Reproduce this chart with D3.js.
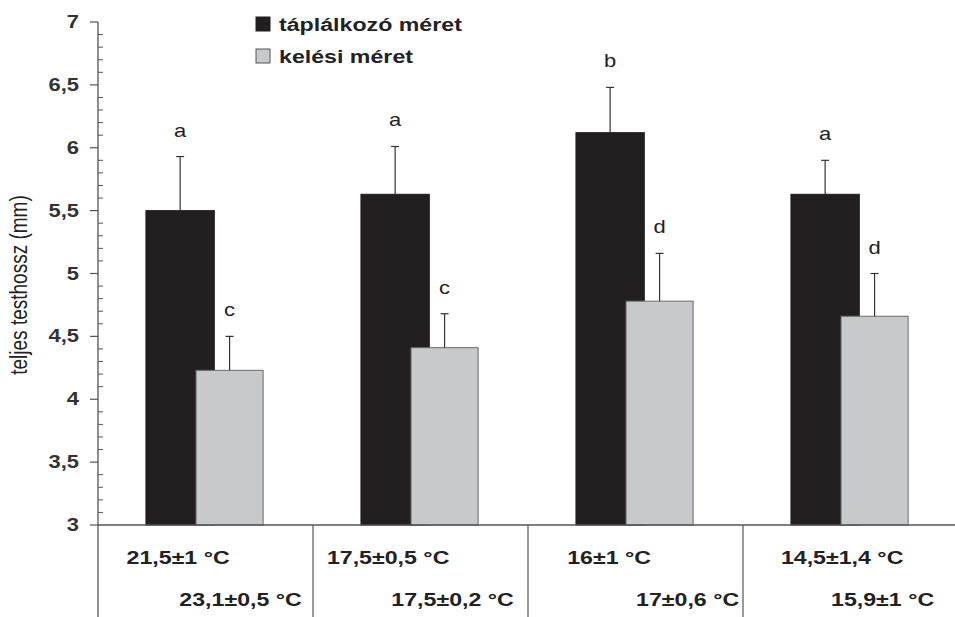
<!DOCTYPE html>
<html>
<head>
<meta charset="utf-8">
<script src="https://cdn.jsdelivr.net/npm/d3@7"></script>
<style>
  html, body { margin: 0; padding: 0; background: #fff; }
  svg { display: block; }
  text { font-family: "Liberation Sans", Arial, sans-serif; fill: #222; }
</style>
</head>
<body>
<svg id="chart" width="955" height="617"></svg>
<script>
// Temperature groups (feeding / hatching temperature ranges)
const categories = ["g1", "g2", "g3", "g4"];
const feedingTemps = ["21,5±1 °C", "17,5±0,5 °C", "16±1 °C", "14,5±1,4 °C"];
const hatchingTemps = ["23,1±0,5 °C", "17,5±0,2 °C", "17±0,6 °C", "15,9±1 °C"];

// Mean total body length (mm) and standard deviation
const feedingSize = [5.50, 5.63, 6.12, 5.63];
const feedingSD = [0.43, 0.38, 0.36, 0.27];
const hatchingSize = [4.23, 4.41, 4.78, 4.66];
const hatchingSD = [0.27, 0.27, 0.38, 0.34];

// Significance letters
const feedingLetters = ["a", "a", "b", "a"];
const hatchingLetters = ["c", "c", "d", "d"];

const seriesNames = ["táplálkozó méret", "kelési méret"];
const yTicks = [3, 3.5, 4, 4.5, 5, 5.5, 6, 6.5, 7];

const svg = d3.select("#chart");
const SX = 1.22; // horizontal text stretch
const fmt = d => String(d).replace(".", ",");

const x0 = 98, x1 = 958, yTop = 22, yBase = 525, bottom = 617;
const x = d3.scaleBand().domain(categories).range([x0, x1]).paddingInner(0).paddingOuter(0);
const y = d3.scaleLinear().domain([3, 7]).range([yBase, yTop]);
const bw = x.bandwidth();

// sub-position of each series inside a group (bars overlap)
const sub = d3.scaleOrdinal().domain([0, 1]).range([bw * 0.223, bw * 0.456]);
const barW = [bw * 0.318, bw * 0.312];
const fills = ["#231f20", "#c8c9cb"];
const strokes = ["#231f20", "#6b6b6b"];

const series = [
  { vals: feedingSize, sd: feedingSD, letters: feedingLetters },
  { vals: hatchingSize, sd: hatchingSD, letters: hatchingLetters }
];

// Bars and error bars
series.forEach((s, si) => {
  const g = svg.append("g");
  categories.forEach((c, i) => {
    const bx = x(c) + sub(si);
    const cx = bx + barW[si] / 2;
    const top = y(s.vals[i]);
    g.append("rect")
      .attr("x", bx).attr("y", top)
      .attr("width", barW[si]).attr("height", yBase - top)
      .attr("fill", fills[si]).attr("stroke", strokes[si]).attr("stroke-width", 1);
    const et = y(s.vals[i] + s.sd[i]);
    g.append("line").attr("x1", cx).attr("x2", cx).attr("y1", top).attr("y2", et)
      .attr("stroke", "#333").attr("stroke-width", 1.2);
    g.append("line").attr("x1", cx - 4).attr("x2", cx + 4).attr("y1", et).attr("y2", et)
      .attr("stroke", "#333").attr("stroke-width", 1.2);
    g.append("text")
      .attr("transform", `translate(${cx},${et - 20}) scale(${SX},1)`)
      .attr("text-anchor", "middle")
      .style("font-size", "18px")
      .text(s.letters[i]);
  });
});

// Y axis
const axisColor = "#555";
svg.append("line").attr("x1", x0).attr("x2", x0).attr("y1", yTop).attr("y2", bottom)
  .attr("stroke", axisColor).attr("stroke-width", 1.3);
const minor = d3.range(30, 71).map(v => v / 10).filter(v => Math.round(v * 10) % 5 !== 0);
svg.append("g").selectAll("line").data(minor).join("line")
  .attr("x1", x0).attr("x2", x0 + 5)
  .attr("y1", d => y(d)).attr("y2", d => y(d))
  .attr("stroke", axisColor).attr("stroke-width", 1);
svg.append("g").selectAll("line").data(yTicks).join("line")
  .attr("x1", x0 - 8).attr("x2", x0)
  .attr("y1", d => y(d)).attr("y2", d => y(d))
  .attr("stroke", axisColor).attr("stroke-width", 1.2);
svg.append("g").selectAll("text").data(yTicks).join("text")
  .attr("transform", d => `translate(79,${y(d) + 6}) scale(${SX},1)`)
  .attr("text-anchor", "end")
  .style("font-size", "18px").style("font-weight", "bold").style("fill", "#333")
  .text(fmt);

// Y axis title
svg.append("text")
  .attr("transform", `translate(27,285) scale(${SX},1) rotate(-90)`)
  .attr("text-anchor", "middle")
  .style("font-size", "19px")
  .text("teljes testhossz (mm)");

// X axis baseline and group dividers
svg.append("line").attr("x1", x0).attr("x2", 955).attr("y1", yBase).attr("y2", yBase)
  .attr("stroke", axisColor).attr("stroke-width", 1.3);
svg.append("g").selectAll("line").data(categories.slice(1)).join("line")
  .attr("x1", d => x(d)).attr("x2", d => x(d))
  .attr("y1", yBase).attr("y2", bottom)
  .attr("stroke", axisColor).attr("stroke-width", 1.2);

// Temperature labels under each group
const nudge1 = [-2, -7, -1, 17];
const nudge2 = [11, 8, 28, 8];
categories.forEach((c, i) => {
  const c1 = x(c) + sub(0) + barW[0] / 2 + nudge1[i];
  const c2 = x(c) + sub(1) + barW[1] / 2 + nudge2[i];
  svg.append("text")
    .attr("transform", `translate(${c1},564) scale(${SX},1)`)
    .attr("text-anchor", "middle")
    .style("font-size", "19px").style("font-weight", "bold")
    .text(feedingTemps[i]);
  svg.append("text")
    .attr("transform", `translate(${c2},606) scale(${SX},1)`)
    .attr("text-anchor", "middle")
    .style("font-size", "19px").style("font-weight", "bold")
    .text(hatchingTemps[i]);
});

// Legend
const legend = svg.append("g");
seriesNames.forEach((name, i) => {
  const ly = 17 + i * 32;
  legend.append("rect").attr("x", 256).attr("y", ly).attr("width", 14).attr("height", 14)
    .attr("fill", fills[i]).attr("stroke", i ? "#555" : fills[i]);
  legend.append("text")
    .attr("transform", `translate(279,${ly + 14}) scale(${SX},1)`)
    .style("font-size", "19px").style("font-weight", "bold")
    .text(name);
});
</script>
</body>
</html>
